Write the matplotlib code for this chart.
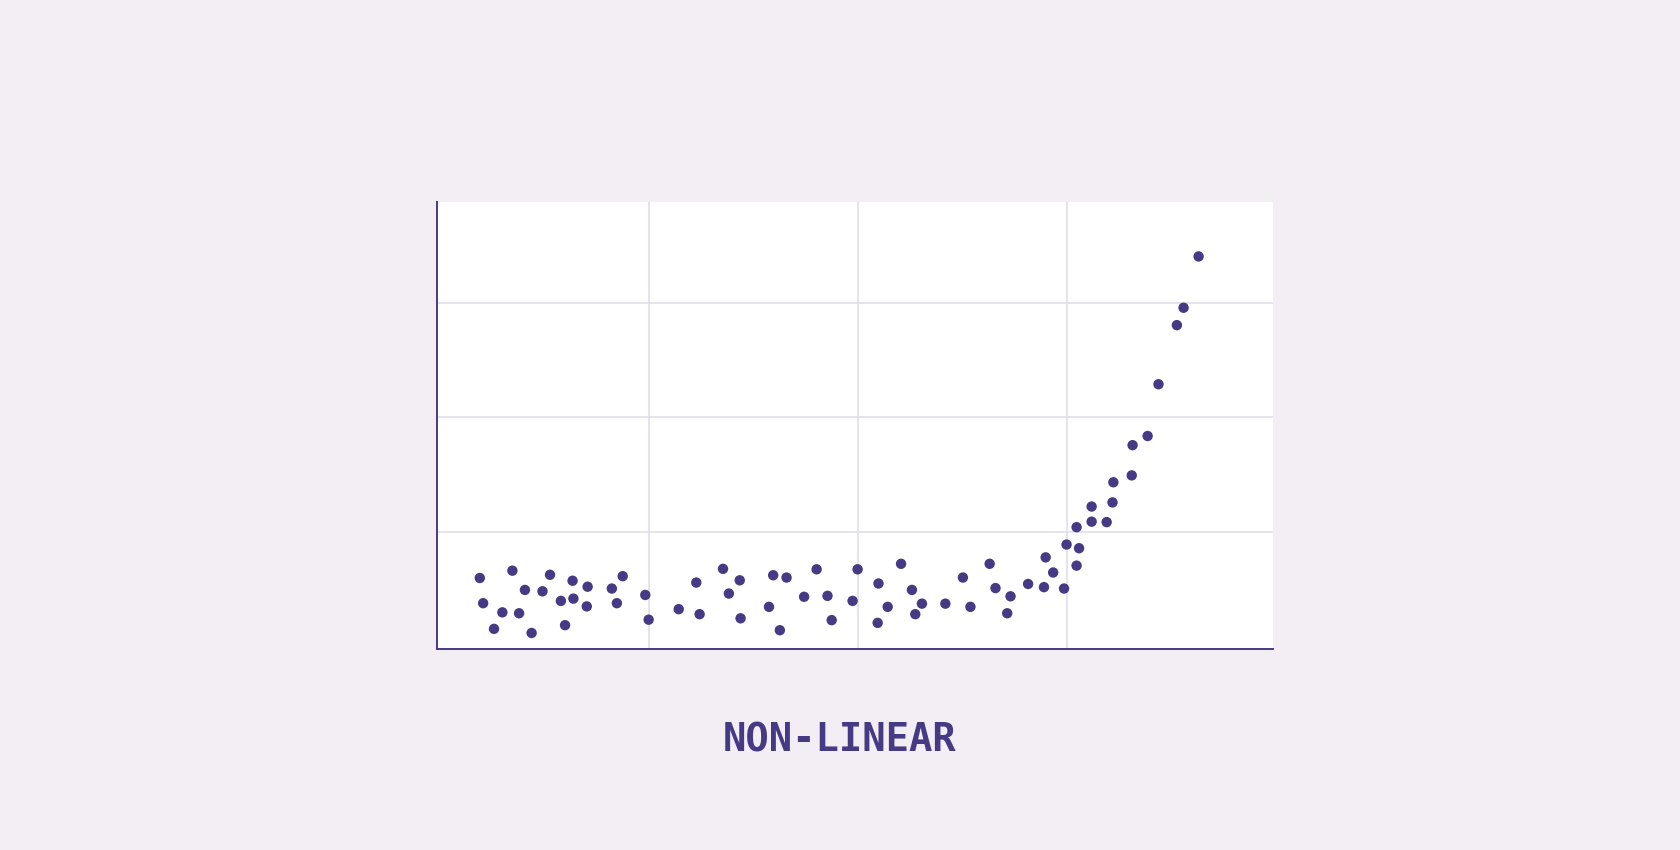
import matplotlib
matplotlib.use("Agg")
import matplotlib.pyplot as plt

x_vals = [4.8, 5.2, 6.5, 7.5, 8.7, 9.5, 10.2, 11.0, 12.3, 13.2, 14.5, 15.0, 15.9, 16.0,
          17.6, 17.7, 20.6, 21.2, 21.9, 24.6, 25.0, 28.6, 30.7, 31.1, 33.9, 34.6, 35.9,
          36.0, 39.4, 39.9, 40.7, 41.5, 43.6, 45.1, 46.4, 46.9, 49.4, 50.0,
          52.5, 52.4, 53.6, 55.2, 56.5, 56.9, 57.7, 60.5, 62.6, 63.5, 65.8, 66.5, 67.9,
          68.3, 70.4, 72.3, 72.5, 73.4, 74.7, 75.0, 76.2, 76.2, 76.5, 78.0, 78.0, 79.8,
          80.5, 80.6, 82.8, 82.9, 84.7, 86.0, 88.2, 89.0, 90.8]
y_vals = [14.9, 9.4, 3.8, 7.4, 16.5, 7.2, 12.3, 2.9, 12.0, 15.6, 9.9, 4.6, 14.3, 10.4,
          8.7, 13.0, 12.6, 9.4, 15.3, 11.2, 5.8, 8.1, 13.9, 7.0, 16.9, 11.5, 14.4,
          6.1, 8.6, 15.5, 3.5, 15.0, 10.8, 16.8, 11.0, 5.7, 9.9, 16.8,
          13.7, 5.1, 8.6, 18.0, 12.3, 7.0, 9.3, 9.3, 15.0, 8.6, 18.0, 12.7, 7.2,
          10.9, 13.6, 12.9, 19.4, 16.1, 12.6, 22.2, 17.6, 26.0, 21.4, 30.5, 27.2, 27.1,
          31.4, 35.8, 37.3, 43.9, 45.9, 57.2, 70.1, 73.9, 85.1]
grid_ticks = [25, 50, 75]
title_text = "NON-LINEAR"

BG = "#F2EEF4"
INK = "#463A85"
GRID = "#E2DEEA"

fig = plt.figure(figsize=(16.8, 8.5), dpi=100, facecolor=BG)
ax = fig.add_axes([437 / 1680, 1 - 649 / 850, 836 / 1680, (649 - 201.7) / 850])
ax.set_facecolor("white")

ax.scatter(x_vals, y_vals, s=56, color=INK, edgecolors="none", zorder=3)

ax.set_xlim(-0.32, 99.7)
ax.set_ylim(-0.6, 97.05)
ax.set_xticks(grid_ticks)
ax.set_yticks(grid_ticks)
ax.grid(True, color=GRID, linewidth=1.2, zorder=0)
ax.set_axisbelow(True)
ax.tick_params(length=0, labelbottom=False, labelleft=False)

for side in ["top", "right"]:
    ax.spines[side].set_visible(False)
for side in ["left", "bottom"]:
    ax.spines[side].set_color(INK)
    ax.spines[side].set_linewidth(1.4)

fig.text(0.5, 1 - 741 / 850, title_text, ha="center", va="center",
         fontsize=28, fontweight="bold", family="DejaVu Sans Mono", color=INK)

fig.savefig("out.png", dpi=100, facecolor=BG)
